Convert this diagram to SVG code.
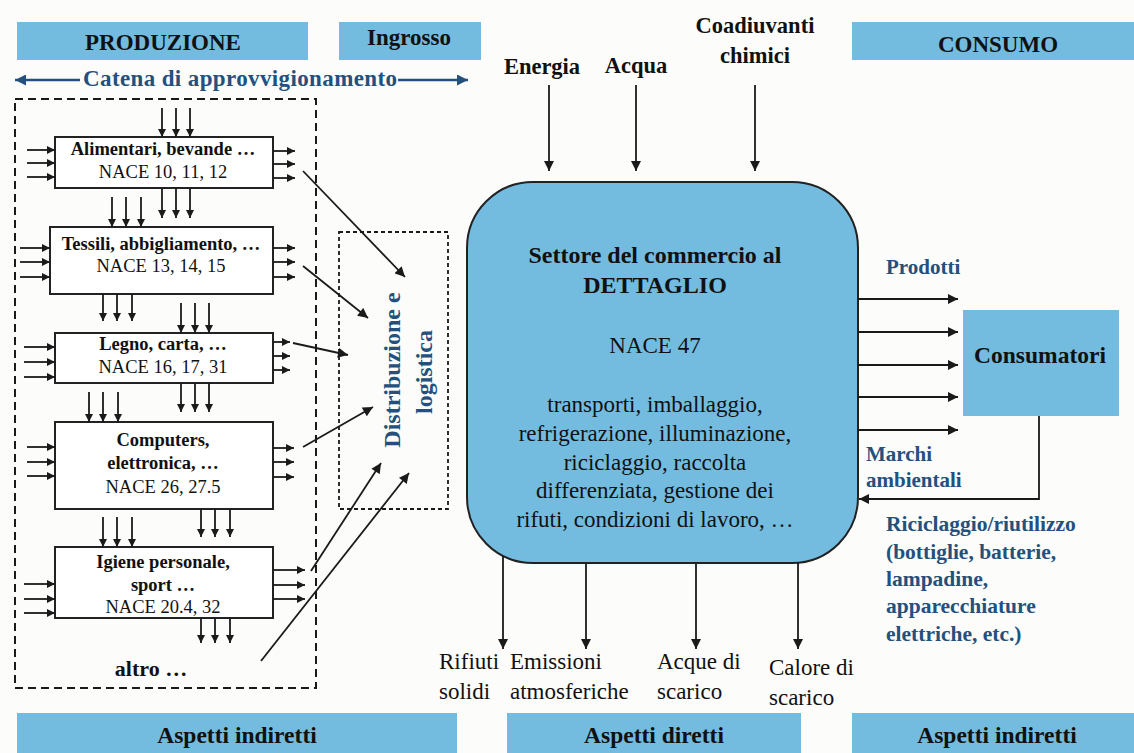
<svg xmlns="http://www.w3.org/2000/svg" width="1134" height="753" viewBox="0 0 1134 753">
<style>
.bn{fill:#73bce0}
.t{font-family:'Liberation Serif','DejaVu Serif','Times New Roman',serif;fill:#111}
.b{font-weight:bold}
.blue{fill:#23507d}
.c{text-anchor:middle}
.box{fill:#fff;stroke:#222;stroke-width:2}
.ln{stroke:#1a1a1a;stroke-width:1.8;fill:none}
.sm{marker-end:url(#sa)}
.lg{marker-end:url(#la)}
</style>
<defs>
<marker id="sa" viewBox="0 0 10 10" refX="10" refY="5" markerWidth="9" markerHeight="8" markerUnits="userSpaceOnUse" orient="auto"><path d="M0,0 L10,5 L0,10 z" fill="#1a1a1a"/></marker>
<marker id="la" viewBox="0 0 10 10" refX="10" refY="5" markerWidth="11" markerHeight="10" markerUnits="userSpaceOnUse" orient="auto"><path d="M0,0 L10,5 L0,10 z" fill="#1a1a1a"/></marker>
<marker id="ba" viewBox="0 0 10 10" refX="10" refY="5" markerWidth="14" markerHeight="11" markerUnits="userSpaceOnUse" orient="auto"><path d="M0,0 L10,5 L0,10 z" fill="#23507d"/></marker>
</defs>
<rect width="1134" height="753" fill="#fcfcfa"/>

<g id="banners">
<rect class="bn" x="17" y="22" width="291" height="38"/>
<text class="t b c" x="163" y="50" font-size="23">PRODUZIONE</text>
<rect class="bn" x="339" y="22" width="142" height="38"/>
<text class="t b c" x="409" y="45" font-size="23">Ingrosso</text>
<rect class="bn" x="852" y="22" width="282" height="38"/>
<text class="t b c" x="998" y="52" font-size="23">CONSUMO</text>
<rect class="bn" x="17" y="713" width="440" height="40"/>
<text class="t b c" x="237" y="743" font-size="23.5">Aspetti indiretti</text>
<rect class="bn" x="507" y="713" width="294" height="40"/>
<text class="t b c" x="654" y="743" font-size="23.5">Aspetti diretti</text>
<rect class="bn" x="852" y="713" width="282" height="40"/>
<text class="t b c" x="997" y="743" font-size="23.5">Aspetti indiretti</text>
</g>

<g id="catena">
<line x1="80" y1="80" x2="15" y2="80" stroke="#23507d" stroke-width="2.5" marker-end="url(#ba)"/>
<line x1="398" y1="80" x2="468" y2="80" stroke="#23507d" stroke-width="2.5" marker-end="url(#ba)"/>
<text class="t b blue c" x="240" y="86" font-size="23" textLength="314">Catena di approvvigionamento</text>
</g>

<g id="produzione">
<rect x="15" y="99" width="301" height="589" fill="none" stroke="#1a1a1a" stroke-width="2" stroke-dasharray="8,5"/>
</g>

<g id="box-alimentari">
<rect class="box" x="55" y="137" width="218" height="51"/>
<text class="t b c" x="163" y="155" font-size="18.5">Alimentari, bevande …</text>
<text class="t c" x="163" y="178" font-size="18.5">NACE 10, 11, 12</text>
</g>
<g id="box-tessili">
<rect class="box" x="50" y="227" width="223" height="67"/>
<text class="t b c" x="161" y="250" font-size="18.5">Tessili, abbigliamento, …</text>
<text class="t c" x="161" y="272" font-size="18.5">NACE 13, 14, 15</text>
</g>
<g id="box-legno">
<rect class="box" x="55" y="333" width="218" height="50"/>
<text class="t b c" x="163" y="350" font-size="18.5">Legno, carta, …</text>
<text class="t c" x="163" y="373" font-size="18.5">NACE 16, 17, 31</text>
</g>
<g id="box-computers">
<rect class="box" x="55" y="422" width="218" height="87"/>
<text class="t b c" x="163" y="446" font-size="18.5">Computers,</text>
<text class="t b c" x="163" y="469" font-size="18.5">elettronica, …</text>
<text class="t c" x="163" y="493" font-size="18.5">NACE 26, 27.5</text>
</g>
<g id="box-igiene">
<rect class="box" x="55" y="547" width="218" height="71"/>
<text class="t b c" x="163" y="568" font-size="18.5">Igiene personale,</text>
<text class="t b c" x="163" y="591" font-size="18.5">sport …</text>
<text class="t c" x="163" y="613" font-size="18.5">NACE 20.4, 32</text>
</g>
<g id="altro">
<text class="t b c" x="151" y="676" font-size="22">altro …</text>
</g>

<g id="distribuzione">
<rect x="339" y="232" width="109" height="277" fill="none" stroke="#1a1a1a" stroke-width="1.8" stroke-dasharray="4,3"/>
<text class="t b blue c" transform="translate(400,370) rotate(-90)" font-size="24">Distribuzione e</text>
<text class="t b blue c" transform="translate(432,372) rotate(-90)" font-size="24">logistica</text>
</g>

<g id="dettaglio">
<rect x="467" y="182" width="391" height="381" rx="66" ry="66" fill="#73bce0" stroke="#222" stroke-width="2"/>
<text class="t b c" x="655" y="263" font-size="24">Settore del commercio al</text>
<text class="t b c" x="655" y="293" font-size="24">DETTAGLIO</text>
<text class="t c" x="655" y="353" font-size="23">NACE 47</text>
<text class="t c" x="655" y="412" font-size="23">transporti, imballaggio,</text>
<text class="t c" x="655" y="441" font-size="23">refrigerazione, illuminazione,</text>
<text class="t c" x="655" y="470" font-size="23">riciclaggio, raccolta</text>
<text class="t c" x="655" y="498" font-size="23">differenziata, gestione dei</text>
<text class="t c" x="655" y="527" font-size="23">rifuti, condizioni di lavoro, …</text>
</g>

<g id="inputs">
<text class="t b c" x="542" y="74" font-size="22.5">Energia</text>
<text class="t b c" x="636" y="73" font-size="22.5">Acqua</text>
<text class="t b c" x="755" y="33" font-size="22.5">Coadiuvanti</text>
<text class="t b c" x="755" y="63" font-size="22.5">chimici</text>
</g>

<g id="consumatori">
<rect class="bn" x="963" y="310" width="156" height="106"/>
<text class="t b c" x="1040" y="363" font-size="23.5">Consumatori</text>
</g>

<g id="labels">
<text class="t b blue" x="886" y="274" font-size="21">Prodotti</text>
<text class="t b blue" x="866" y="461" font-size="21">Marchi</text>
<text class="t b blue" x="866" y="487" font-size="21">ambientali</text>
<text class="t b blue" x="886" y="531" font-size="21.5">Riciclaggio/riutilizzo</text>
<text class="t b blue" x="886" y="559" font-size="21.5">(bottiglie, batterie,</text>
<text class="t b blue" x="886" y="586" font-size="21.5">lampadine,</text>
<text class="t b blue" x="886" y="613" font-size="21.5">apparecchiature</text>
<text class="t b blue" x="886" y="641" font-size="21.5">elettriche, etc.)</text>
<text class="t" x="439" y="669" font-size="23">Rifiuti</text>
<text class="t" x="439" y="699" font-size="23">solidi</text>
<text class="t" x="510" y="669" font-size="23">Emissioni</text>
<text class="t" x="510" y="699" font-size="23">atmosferiche</text>
<text class="t" x="657" y="669" font-size="23">Acque di</text>
<text class="t" x="657" y="699" font-size="23">scarico</text>
<text class="t" x="769" y="675" font-size="23">Calore di</text>
<text class="t" x="769" y="705" font-size="23">scarico</text>
</g>

<g id="connectors">
<path class="ln sm" d="M27,150H55"/><path class="ln sm" d="M27,163H55"/><path class="ln sm" d="M27,177H55"/>
<path class="ln sm" d="M273,151H295"/><path class="ln sm" d="M273,164H295"/><path class="ln sm" d="M273,178H295"/>
<path class="ln sm" d="M162,108V137"/><path class="ln sm" d="M176,108V137"/><path class="ln sm" d="M190,108V137"/>
<path class="ln sm" d="M162,188V218"/><path class="ln sm" d="M176,188V218"/><path class="ln sm" d="M190,188V218"/>
<path class="ln sm" d="M112,197V227"/><path class="ln sm" d="M126,197V227"/><path class="ln sm" d="M141,197V227"/>
<path class="ln sm" d="M20,248H50"/><path class="ln sm" d="M20,262H50"/><path class="ln sm" d="M20,277H50"/>
<path class="ln sm" d="M273,248H295"/><path class="ln sm" d="M273,262H295"/><path class="ln sm" d="M273,277H295"/>
<path class="ln sm" d="M103,294V321"/><path class="ln sm" d="M117,294V321"/><path class="ln sm" d="M132,294V321"/>
<path class="ln sm" d="M181,303V333"/><path class="ln sm" d="M195,303V333"/><path class="ln sm" d="M209,303V333"/>
<path class="ln sm" d="M24,347H55"/><path class="ln sm" d="M24,362H55"/><path class="ln sm" d="M24,377H55"/>
<path class="ln sm" d="M273,342H290"/><path class="ln sm" d="M273,356H290"/><path class="ln sm" d="M273,370H290"/>
<path class="ln sm" d="M181,383V412"/><path class="ln sm" d="M195,383V412"/><path class="ln sm" d="M209,383V412"/>
<path class="ln sm" d="M89,392V422"/><path class="ln sm" d="M103,392V422"/><path class="ln sm" d="M118,392V422"/>
<path class="ln sm" d="M27,447H55"/><path class="ln sm" d="M27,462H55"/><path class="ln sm" d="M27,476H55"/>
<path class="ln sm" d="M273,448H294"/><path class="ln sm" d="M273,462H294"/><path class="ln sm" d="M273,477H294"/>
<path class="ln sm" d="M201,509V537"/><path class="ln sm" d="M215,509V537"/><path class="ln sm" d="M230,509V537"/>
<path class="ln sm" d="M103,517V547"/><path class="ln sm" d="M117,517V547"/><path class="ln sm" d="M132,517V547"/>
<path class="ln sm" d="M24,584H55"/><path class="ln sm" d="M24,599H55"/><path class="ln sm" d="M24,613H55"/>
<path class="ln sm" d="M273,570H305"/><path class="ln sm" d="M273,585H305"/><path class="ln sm" d="M273,599H305"/>
<path class="ln sm" d="M201,618V643"/><path class="ln sm" d="M215,618V643"/><path class="ln sm" d="M230,618V643"/>
<path class="ln lg" d="M303,171L405,277"/>
<path class="ln lg" d="M303,266L368,318"/>
<path class="ln lg" d="M293,343L348,355"/>
<path class="ln lg" d="M303,447L373,407"/>
<path class="ln lg" d="M311,571L381,463"/>
<path class="ln lg" d="M261,661L409,473"/>
<path class="ln lg" d="M549,85V171"/>
<path class="ln lg" d="M636,85V171"/>
<path class="ln lg" d="M755,85V171"/>
<path class="ln lg" d="M503,556V649"/>
<path class="ln lg" d="M586,563V649"/>
<path class="ln lg" d="M696,563V649"/>
<path class="ln lg" d="M798,563V649"/>
<path class="ln lg" d="M858,299H958"/>
<path class="ln lg" d="M858,332H958"/>
<path class="ln lg" d="M858,365H958"/>
<path class="ln lg" d="M858,397H958"/>
<path class="ln lg" d="M858,430H958"/>
<path class="ln lg" d="M1039,416V499H859"/>
</g>
</svg>
